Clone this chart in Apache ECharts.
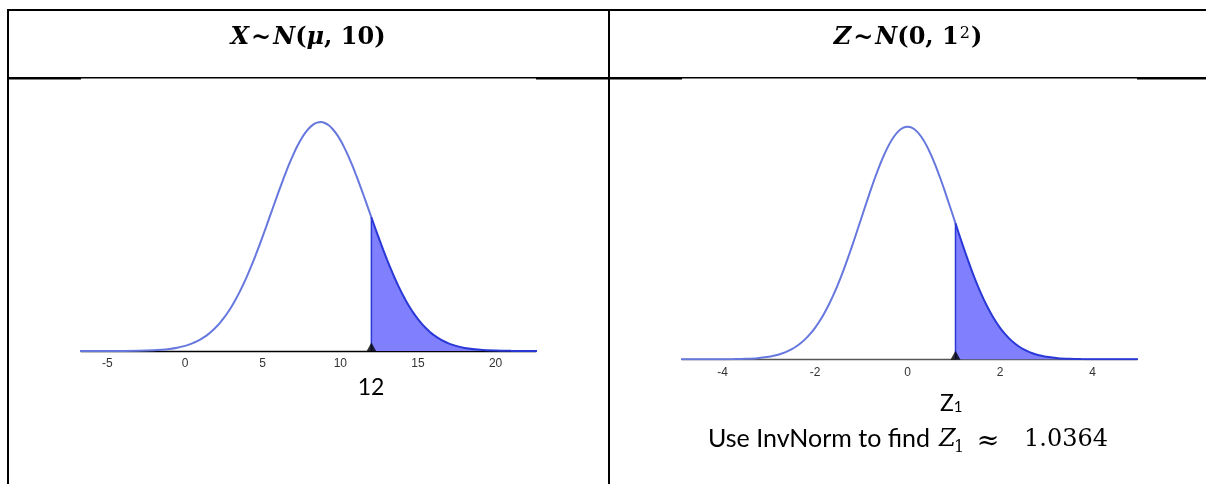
<!DOCTYPE html>
<html>
<head>
<meta charset="utf-8">
<script src="https://cdn.jsdelivr.net/npm/echarts@6/dist/echarts.min.js"></script>
<style>
html,body{margin:0;padding:0;background:#fff;}
#c{width:1206px;height:484px;}
</style>
</head>
<body>
<div id="c"></div>
<script>
// ---- data ----
const xTicks1 = [-5, 0, 5, 10, 15, 20];
const xTicks2 = [-4, -2, 0, 2, 4];
const cut1 = 12;
const cut2 = 1.0364;
const xVals1 = [-7,-6,-5,-4,-3,-2,-1.5,-1,-0.5,0,0.25,0.5,0.75,1,1.25,1.5,1.75,2,2.25,2.5,2.75,3,3.25,3.5,3.75,4,4.25,4.5,4.75,5,5.25,5.5,5.75,6,6.25,6.5,6.75,7,7.25,7.5,7.75,8,8.25,8.5,8.75,9,9.25,9.5,9.75,10,10.25,10.5,10.75,11,11.25,11.5,11.75,12,12.25,12.5,12.75,13,13.25,13.5,13.75,14,14.25,14.5,14.75,15,15.25,15.5,15.75,16,16.5,17,17.5,18,19,20,21,22,23];
const yVals1 = [0.0000005,0.0000025,0.00001,0.00004,0.00013,0.000403,0.000681,0.00112,0.0018,0.002817,0.003492,0.004302,0.005267,0.006409,0.007749,0.009311,0.011119,0.013193,0.015558,0.01823,0.02123,0.024574,0.028262,0.032305,0.036691,0.041415,0.046458,0.051788,0.05737,0.063156,0.069098,0.075125,0.081168,0.087151,0.092995,0.098607,0.103912,0.108815,0.113241,0.117114,0.120367,0.122932,0.124773,0.125855,0.126155,0.125667,0.1244,0.12238,0.119641,0.116237,0.112224,0.107676,0.102668,0.097282,0.091605,0.085723,0.079718,0.073672,0.067659,0.061754,0.05601,0.050484,0.045219,0.040251,0.035606,0.031303,0.027346,0.023739,0.020478,0.017556,0.01496,0.012666,0.010662,0.008914,0.006117,0.004095,0.002673,0.001702,0.00064,0.00022,0.000067,0.00002,0];
const xVals2 = [-5,-4.5,-4,-3.75,-3.5,-3.25,-3,-2.9,-2.8,-2.7,-2.6,-2.5,-2.4,-2.3,-2.2,-2.1,-2,-1.9,-1.8,-1.7,-1.6,-1.5,-1.4,-1.3,-1.2,-1.1,-1,-0.9,-0.8,-0.7,-0.6,-0.5,-0.4,-0.3,-0.2,-0.1,0,0.1,0.2,0.3,0.4,0.5,0.6,0.7,0.8,0.9,1,1.0364,1.1,1.2,1.3,1.4,1.5,1.6,1.7,1.8,1.9,2,2.1,2.2,2.3,2.4,2.5,2.6,2.7,2.8,2.9,3,3.25,3.5,3.75,4,4.5,5];
const yVals2 = [0.0000015,0.000016,0.00013,0.00035,0.00087,0.002,0.0044,0.006,0.0079,0.0104,0.0136,0.0175,0.0224,0.0283,0.0355,0.044,0.054,0.0656,0.079,0.094,0.1109,0.1295,0.1497,0.1714,0.1942,0.2179,0.242,0.2661,0.2897,0.3123,0.3332,0.3521,0.3683,0.3814,0.391,0.397,0.3989,0.397,0.391,0.3814,0.3683,0.3521,0.3332,0.3123,0.2897,0.2661,0.242,0.2332,0.2179,0.1942,0.1714,0.1497,0.1295,0.1109,0.094,0.079,0.0656,0.054,0.044,0.0355,0.0283,0.0224,0.0175,0.0136,0.0104,0.0079,0.006,0.0044,0.002,0.00087,0.00035,0.00013,0.000016,0.0000015];
const cutLabel1 = '12';
const noteText = 'Use InvNorm to find';
const noteValue = '1.0364';

// ---- build ----
function pairs(xs, ys, test) {
  const out = [];
  xs.forEach((x, i) => { if (test(x)) out.push([x, ys[i]]); });
  return out;
}
function valAt(xs, ys, x) { return ys[xs.indexOf(x)]; }

const LIGHT = '#6678dd';
const DARK = '#2a38d6';
const FILL = '#8080ff';
const SERIF = '"DejaVu Serif", "Liberation Serif", serif';

const chart = echarts.init(document.getElementById('c'), null, {renderer: 'canvas'});

function xAxisCfg(idx, min, max, ticks, lineColor) {
  return {
    type: 'value', gridIndex: idx, min: min, max: max,
    axisLine: {show: true, onZero: false, lineStyle: {color: lineColor, width: 1.3}},
    axisTick: {show: false},
    splitLine: {show: false},
    axisLabel: {
      show: true, customValues: ticks, margin: 7,
      color: '#333', fontSize: 12, fontFamily: 'Liberation Sans, Arial, sans-serif'
    }
  };
}
function yAxisCfg(idx, max) {
  return {type: 'value', gridIndex: idx, min: 0, max: max, show: false, splitLine: {show: false}};
}
function curveSeries(idx, data, color) {
  return {
    type: 'line', xAxisIndex: idx, yAxisIndex: idx, data: data, smooth: 0.3,
    showSymbol: false, symbol: 'none', silent: true, z: 3,
    lineStyle: {color: color, width: 2}
  };
}
function shadeSeries(idx, data) {
  return {
    type: 'line', xAxisIndex: idx, yAxisIndex: idx, data: data, smooth: 0.3,
    showSymbol: false, symbol: 'none', silent: true, z: 3,
    lineStyle: {color: DARK, width: 2},
    areaStyle: {color: FILL, opacity: 1}
  };
}
function edgeSeries(idx, x, y) {
  return {
    type: 'line', xAxisIndex: idx, yAxisIndex: idx, data: [[x, 0], [x, y]],
    showSymbol: false, symbol: 'none', silent: true, z: 4,
    lineStyle: {color: DARK, width: 1.5}
  };
}
function markerSeries(idx, x) {
  return {
    type: 'scatter', xAxisIndex: idx, yAxisIndex: idx, data: [[x, 0]],
    symbol: 'triangle', symbolSize: [10, 9], symbolOffset: [0, -4],
    itemStyle: {color: '#000'}, silent: true, z: 6
  };
}

const titleRich = {
  bi: {fontFamily: SERIF, fontStyle: 'italic', fontWeight: 'bold', fontSize: 24, lineHeight: 30, verticalAlign: 'top', fill: '#000'},
  b: {fontFamily: SERIF, fontWeight: 'bold', fontSize: 24, lineHeight: 30, verticalAlign: 'top', fill: '#000'},
  t: {fontFamily: SERIF, fontWeight: 'bold', fontSize: 24, lineHeight: 30, verticalAlign: 'top', fill: '#000', padding: [0, 2, 0, 2]},
  sup: {fontFamily: SERIF, fontSize: 16, lineHeight: 20, verticalAlign: 'top', fill: '#000', padding: [0, 1, 0, 1]}
};

const lines = [
  {type: 'rect', shape: {x: 7, y: 9, width: 1199, height: 2}, style: {fill: '#000'}},
  {type: 'rect', shape: {x: 7, y: 9, width: 2, height: 475}, style: {fill: '#000'}},
  {type: 'rect', shape: {x: 608, y: 9, width: 2, height: 475}, style: {fill: '#000'}},
  {type: 'rect', shape: {x: 7, y: 77, width: 1199, height: 1.5}, style: {fill: '#000'}},
  {type: 'rect', shape: {x: 7, y: 77, width: 74, height: 2.6}, style: {fill: '#000'}},
  {type: 'rect', shape: {x: 536, y: 77, width: 146, height: 2.6}, style: {fill: '#000'}},
  {type: 'rect', shape: {x: 1137, y: 77, width: 69, height: 2.6}, style: {fill: '#000'}}
];

const texts = [
  {type: 'text', x: 308, y: 41, style: {
    text: '{bi|X}{t|~}{bi|N}{b|(}{bi|μ}{b|, 10)}', rich: titleRich,
    align: 'center', verticalAlign: 'middle'}},
  {type: 'text', x: 908, y: 41, style: {
    text: '{bi|Z}{t|~}{bi|N}{b|(0, 1}{sup|2}{b|)}', rich: titleRich,
    align: 'center', verticalAlign: 'middle'}},
  {type: 'text', x: 371, y: 388, style: {
    text: cutLabel1, font: '23px Lato, sans-serif', fill: '#000',
    align: 'center', verticalAlign: 'middle'}},
  {type: 'text', x: 940, y: 402, style: {
    text: '{z|Z}{s|1}',
    rich: {
      z: {fontFamily: 'Lato, sans-serif', fontSize: 23, lineHeight: 26, verticalAlign: 'bottom', fill: '#000'},
      s: {fontFamily: 'Lato, sans-serif', fontSize: 15, lineHeight: 17, verticalAlign: 'bottom', fill: '#000'}
    },
    align: 'left', verticalAlign: 'middle'}},
  // bottom note, pieces placed individually
  {type: 'text', x: 708, y: 439, style: {
    text: noteText, font: '25px Lato, sans-serif', fill: '#000',
    align: 'left', verticalAlign: 'middle'}},
  {type: 'text', x: 939, y: 439.5, style: {
    text: 'Z', font: 'italic 24px ' + SERIF, fill: '#000',
    align: 'left', verticalAlign: 'middle'}},
  {type: 'text', x: 954, y: 447.5, style: {
    text: '1', font: '16px ' + SERIF, fill: '#000',
    align: 'left', verticalAlign: 'middle'}},
  {type: 'text', x: 988, y: 441.5, style: {
    text: '≈', font: '27px ' + SERIF, fill: '#000',
    align: 'center', verticalAlign: 'middle'}},
  {type: 'text', x: 1024, y: 439.5, style: {
    text: noteValue, font: '24px ' + SERIF, fill: '#000',
    align: 'left', verticalAlign: 'middle'}}
];

const option = {
  animation: false,
  backgroundColor: '#fff',
  grid: [
    {left: 81, right: 670, top: 97, bottom: 133},
    {left: 682, right: 69, top: 97, bottom: 124.7}
  ],
  xAxis: [
    xAxisCfg(0, -6.7, 22.6, xTicks1, '#000'),
    xAxisCfg(1, -4.876, 4.96, xTicks2, '#555')
  ],
  yAxis: [yAxisCfg(0, 0.14), yAxisCfg(1, 0.45)],
  series: [
    curveSeries(0, pairs(xVals1, yVals1, x => x <= cut1), LIGHT),
    shadeSeries(0, pairs(xVals1, yVals1, x => x >= cut1)),
    edgeSeries(0, cut1, valAt(xVals1, yVals1, cut1)),
    markerSeries(0, cut1),
    curveSeries(1, pairs(xVals2, yVals2, x => x <= cut2), LIGHT),
    shadeSeries(1, pairs(xVals2, yVals2, x => x >= cut2)),
    edgeSeries(1, cut2, valAt(xVals2, yVals2, cut2)),
    markerSeries(1, cut2)
  ],
  graphic: lines.concat(texts)
};
chart.setOption(option);
</script>
</body>
</html>
